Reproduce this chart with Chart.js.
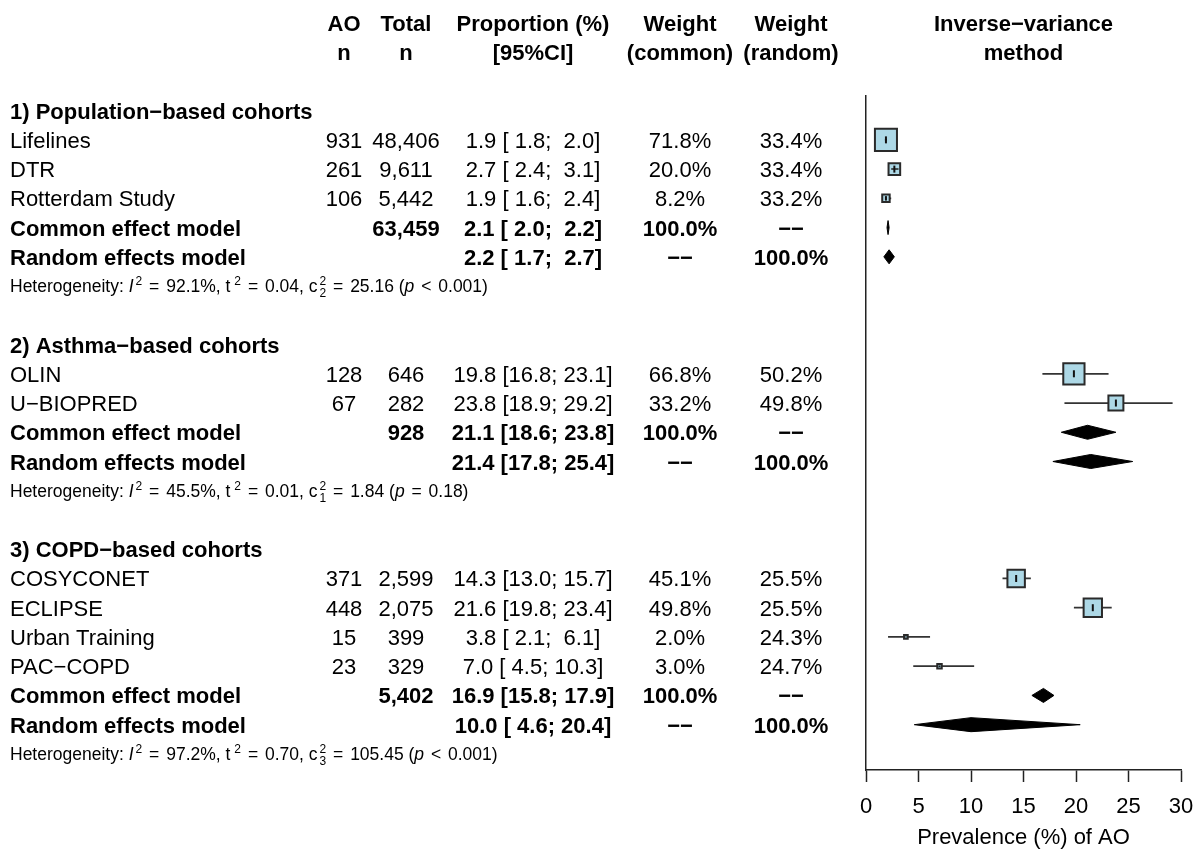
<!DOCTYPE html>
<html>
<head>
<meta charset="utf-8">
<script src="https://cdn.jsdelivr.net/npm/chart.js@4/dist/chart.umd.min.js"></script>
<style>
  html, body { margin: 0; padding: 0; background: #fff; }
  canvas { display: block; }
</style>
</head>
<body>
<canvas id="forest" width="1199" height="850"></canvas>
<script>
// subgroups
const groupNames = ['1) Population\u2212based cohorts', '2) Asthma\u2212based cohorts', '3) COPD\u2212based cohorts'];
const groupTotal = [63459, 928, 5402];
const commonEst = [2.1, 21.1, 16.9];
const commonLower = [2.0, 18.6, 15.8];
const commonUpper = [2.2, 23.8, 17.9];
const randomEst = [2.2, 21.4, 10.0];
const randomLower = [1.7, 17.8, 4.6];
const randomUpper = [2.7, 25.4, 20.4];
const hetI2 = ['92.1%', '45.5%', '97.2%'];
const hetTau2 = ['0.04', '0.01', '0.70'];
const hetDf = [2, 1, 3];
const hetQ = ['25.16', '1.84', '105.45'];
const hetPSign = ['<', '=', '<'];
const hetP = ['0.001', '0.18', '0.001'];

// studies
const studyNames = ['Lifelines', 'DTR', 'Rotterdam Study', 'OLIN', 'U\u2212BIOPRED', 'COSYCONET', 'ECLIPSE', 'Urban Training', 'PAC\u2212COPD'];
const studyGroup = [0, 0, 0, 1, 1, 2, 2, 2, 2];
const studyEvents = [931, 261, 106, 128, 67, 371, 448, 15, 23];
const studyTotal = [48406, 9611, 5442, 646, 282, 2599, 2075, 399, 329];
const studyEst = [1.9, 2.7, 1.9, 19.8, 23.8, 14.3, 21.6, 3.8, 7.0];
const studyLower = [1.8, 2.4, 1.6, 16.8, 18.9, 13.0, 19.8, 2.1, 4.5];
const studyUpper = [2.0, 3.1, 2.4, 23.1, 29.2, 15.7, 23.4, 6.1, 10.3];
const weightCommon = [71.8, 20.0, 8.2, 66.8, 33.2, 45.1, 49.8, 2.0, 3.0];
const weightRandom = [33.4, 33.4, 33.2, 50.2, 49.8, 25.5, 25.5, 24.3, 24.7];

const xTicks = [0, 5, 10, 15, 20, 25, 30];

// row layout: header, studies, common, random, heterogeneity, blank
const headRow = [], studyRow = [], commonRow = [], randomRow = [], hetRow = [];
let r = 0;
groupNames.forEach(function (g, gi) {
  headRow.push(r++);
  studyGroup.forEach(function (sg, i) { if (sg === gi) studyRow[i] = r++; });
  commonRow.push(r++);
  randomRow.push(r++);
  hetRow.push(r++);
  r++;
});

const FONT = "'Liberation Sans', Arial, Helvetica, sans-serif";
const pxPerUnit = 315 / 30;
const boxSide = weightCommon.map(w => 2.6 * Math.sqrt(w));
const inside = studyEst.map((e, i) => (studyUpper[i] - studyLower[i]) * pxPerUnit < boxSide[i]);

function segs(idx) {
  const out = [];
  idx.forEach(i => {
    out.push({x: studyLower[i], y: studyRow[i]}, {x: studyUpper[i], y: studyRow[i]}, {x: NaN, y: NaN});
  });
  return out;
}
const allIdx = studyNames.map((n, i) => i);
const ciOut = segs(allIdx.filter(i => !inside[i]));
const ciIn = segs(allIdx.filter(i => inside[i]));

const datasets = [];
datasets.push({
  label: 'ci', data: ciOut, showLine: true, borderColor: '#333', borderWidth: 1.8,
  pointRadius: 0, order: 5, spanGaps: false
});
datasets.push({
  label: 'box', data: allIdx.map(i => ({x: studyEst[i], y: studyRow[i]})), showLine: false,
  pointStyle: 'rect', pointRadius: boxSide.map(s => s / 1.4142), backgroundColor: '#add8e6',
  borderColor: '#2a2a2a', pointBorderWidth: 2, order: 4
});
datasets.push({
  label: 'ciIn', data: ciIn, showLine: true, borderColor: '#222', borderWidth: 1.5,
  pointRadius: 0, order: 3, spanGaps: false
});
datasets.push({
  label: 'est', data: allIdx.map(i => ({x: studyEst[i], y: studyRow[i]})), showLine: false,
  pointStyle: 'line', rotation: 90, pointRadius: boxSide.map(s => Math.min(3.5, Math.max(0, s / 2 - 1.5))),
  borderColor: '#111', pointBorderWidth: 2, order: 2
});
const dh = 0.24;
function diamond(est, lo, hi, row) {
  return {
    label: 'diamond', data: [
      {x: lo, y: row}, {x: est, y: row - dh}, {x: hi, y: row}, {x: est, y: row + dh}, {x: lo, y: row}
    ],
    showLine: true, fill: 'shape', backgroundColor: '#000', borderColor: '#000', borderWidth: 1,
    pointRadius: 0, tension: 0, order: 1
  };
}
groupNames.forEach((g, gi) => {
  datasets.push(diamond(commonEst[gi], commonLower[gi], commonUpper[gi], commonRow[gi]));
  datasets.push(diamond(randomEst[gi], randomLower[gi], randomUpper[gi], randomRow[gi]));
});

function fmtN(v) { return v.toLocaleString('en-US'); }
function pad(v) { const s = v.toFixed(1); return s.length < 4 ? ' ' + s : s; }
function ci(e, lo, hi) { return e.toFixed(1) + ' [' + pad(lo) + '; ' + pad(hi) + ']'; }

const colAO = 344, colTot = 406, colProp = 533, colWc = 680, colWr = 791;

const textPlugin = {
  id: 'forestText',
  afterDraw(chart) {
    const ctx = chart.ctx;
    const ys = chart.scales.y;
    const area = chart.chartArea;
    const yOf = row => ys.getPixelForValue(row);
    ctx.save();
    ctx.fillStyle = '#000';
    ctx.textBaseline = 'alphabetic';
    function txt(s, x, row, align, bold) {
      ctx.font = (bold ? 'bold ' : '') + '22px ' + FONT;
      ctx.textAlign = align;
      ctx.fillText(s, x, yOf(row) + 8);
    }
    // column headers
    const heads = [[colAO, 'AO', 'n'], [colTot, 'Total', 'n'], [colProp, 'Proportion (%)', '[95%CI]'],
      [colWc, 'Weight', '(common)'], [colWr, 'Weight', '(random)'],
      [(area.left + area.right) / 2, 'Inverse\u2212variance', 'method']];
    heads.forEach(h => { txt(h[1], h[0], -3, 'center', true); txt(h[2], h[0], -2, 'center', true); });

    groupNames.forEach((g, gi) => {
      txt(g, 10, headRow[gi], 'left', true);
      allIdx.filter(i => studyGroup[i] === gi).forEach(i => {
        const row = studyRow[i];
        txt(studyNames[i], 10, row, 'left', false);
        txt(String(studyEvents[i]), colAO, row, 'center', false);
        txt(fmtN(studyTotal[i]), colTot, row, 'center', false);
        txt(ci(studyEst[i], studyLower[i], studyUpper[i]), colProp, row, 'center', false);
        txt(weightCommon[i].toFixed(1) + '%', colWc, row, 'center', false);
        txt(weightRandom[i].toFixed(1) + '%', colWr, row, 'center', false);
      });
      let row = commonRow[gi];
      txt('Common effect model', 10, row, 'left', true);
      txt(fmtN(groupTotal[gi]), colTot, row, 'center', true);
      txt(ci(commonEst[gi], commonLower[gi], commonUpper[gi]), colProp, row, 'center', true);
      txt('100.0%', colWc, row, 'center', true);
      txt('\u2212\u2212', colWr, row, 'center', true);
      row = randomRow[gi];
      txt('Random effects model', 10, row, 'left', true);
      txt(ci(randomEst[gi], randomLower[gi], randomUpper[gi]), colProp, row, 'center', true);
      txt('\u2212\u2212', colWc, row, 'center', true);
      txt('100.0%', colWr, row, 'center', true);

      // heterogeneity line
      const base = yOf(hetRow[gi]) + 6;
      const N = '17.5px ' + FONT, IT = 'italic 17.5px ' + FONT, S = '12px ' + FONT;
      let cx = 10;
      ctx.textAlign = 'left';
      const put = (s, font, dy) => { ctx.font = font; ctx.fillText(s, cx, base + (dy || 0)); cx += ctx.measureText(s).width; };
      const rel = s => { cx += 2; put(' ' + s + ' ', N); cx += 2; };
      put('Heterogeneity: ', N);
      put('I', IT); cx += 2; put('2', S, -7);
      rel('='); put(hetI2[gi] + ', t', N); cx += 4; put('2', S, -7);
      rel('='); put(hetTau2[gi] + ', c', N); cx += 2;
      ctx.font = S;
      ctx.fillText('2', cx, base - 7);
      ctx.fillText(String(hetDf[gi]), cx, base + 5);
      cx += ctx.measureText('2').width;
      rel('='); put(hetQ[gi] + ' (', N);
      put('p', IT);
      rel(hetPSign[gi]); put(hetP[gi] + ')', N);
    });
    ctx.restore();
  }
};

Chart.defaults.color = '#000';
Chart.defaults.font.family = FONT;

new Chart(document.getElementById('forest'), {
  type: 'scatter',
  data: {datasets: datasets},
  options: {
    responsive: false,
    animation: false,
    events: [],
    layout: {padding: {left: 866, right: 18, top: 96, bottom: 0}},
    plugins: {legend: {display: false}, tooltip: {enabled: false}},
    scales: {
      x: {
        type: 'linear', min: 0, max: 30,
        afterBuildTicks(s) { s.ticks = xTicks.map(v => ({value: v})); },
        afterFit(s) { s.height = 80; s.paddingLeft = 0; s.paddingRight = 0; },
        grid: {drawOnChartArea: false, drawTicks: true, tickLength: 12, tickColor: '#222', tickWidth: 1.5},
        border: {display: true, color: '#222', width: 1.5},
        ticks: {font: {size: 22}, color: '#000', padding: 12, maxRotation: 0},
        title: {display: true, text: 'Prevalence (%) of AO', font: {size: 22}, color: '#000', padding: {top: 0, bottom: -1}}
      },
      y: {
        type: 'linear', reverse: true, min: -0.5, max: 22.55,
        afterFit(s) { s.width = 0; s.paddingTop = 0; s.paddingBottom = 0; },
        grid: {display: false, drawTicks: false},
        border: {display: true, color: '#222', width: 1.5},
        ticks: {display: false}
      }
    }
  },
  plugins: [textPlugin]
});
</script>
</body>
</html>
